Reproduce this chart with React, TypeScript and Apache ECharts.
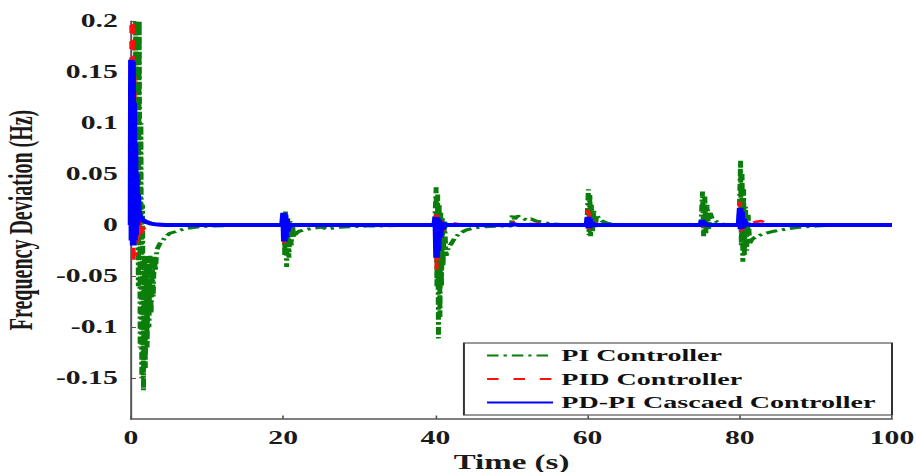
import React, { useEffect, useRef } from 'react';
import * as echarts from 'echarts';

// ---- data (time in s, frequency deviation in Hz) ----
const seriesNames = ['PI Controller', 'PID Controller', 'PD-PI Cascaed Controller'];
const xTickValues = [0, 20, 40, 60, 80, 100];

const piData: [number, number][] = [
  [0, 0], [0.5, 0.005], [0.6, 0.2], [0.72, -0.02], [0.84, 0.2], [0.96, -0.06], [1.08, 0.2], [1.2, -0.12],
  [1.3, 0.1], [1.42, -0.15], [1.52, 0.02], [1.64, -0.162], [1.76, -0.03], [1.88, -0.14], [2.0, -0.04],
  [2.12, -0.12], [2.24, -0.03], [2.36, -0.1], [2.5, -0.03], [2.64, -0.087], [2.78, -0.035], [2.92, -0.07],
  [3.05, -0.03], [3.2, -0.045], [3.4, -0.024], [3.8, -0.018], [4.5, -0.012], [5.1, -0.008], [5.8, -0.0065],
  [7.1, -0.0035], [9.1, -0.0015], [11, -0.0008], [14, -0.0003], [19.9, 0],
  [20.0, 0], [20.1, 0.012], [20.2, -0.03], [20.3, 0.014], [20.45, -0.041], [20.6, 0.008], [20.75, -0.032],
  [20.9, 0.004], [21.05, -0.02], [21.2, 0.002], [21.4, -0.012], [21.7, -0.008], [22.1, -0.006], [22.6, -0.005],
  [23.2, -0.004], [24, -0.003], [25, -0.002], [25.8, -0.004], [26.6, -0.003], [27.5, -0.002], [29, -0.0015],
  [31, -0.001], [35, -0.0005], [39.9, 0],
  [40.0, 0], [40.1, 0.037], [40.2, -0.06], [40.3, 0.03], [40.4, -0.111], [40.5, 0.02], [40.6, -0.09],
  [40.7, 0.012], [40.8, -0.06], [40.9, 0.008], [41.0, -0.04], [41.2, 0.005], [41.4, -0.03], [41.7, -0.022],
  [42.1, -0.018], [42.6, -0.012], [43.2, -0.008], [44, -0.005], [45, -0.003], [46.5, -0.0015], [48, -0.001],
  [49.9, -0.001],
  [50.0, 0], [50.1, 0.01], [50.4, 0.006], [50.8, 0.009], [51.3, 0.007], [52, 0.005], [52.6, 0.006],
  [53.2, 0.004], [54, 0.003], [55, 0.0015], [56.5, 0.0005], [58, 0], [59.9, 0],
  [60.0, 0], [60.1, 0.035], [60.2, -0.01], [60.3, 0.03], [60.4, -0.011], [60.5, 0.02], [60.65, -0.006],
  [60.8, 0.015], [61.0, -0.002], [61.2, 0.01], [61.5, 0.006], [61.9, 0.004], [62.5, 0.002], [63.3, 0.001],
  [64.5, 0], [74.9, 0],
  [75.0, 0], [75.1, 0.033], [75.25, -0.011], [75.4, 0.028], [75.55, -0.008], [75.7, 0.02], [75.9, -0.004],
  [76.1, 0.012], [76.4, 0.006], [76.8, 0.004], [77.4, 0.002], [78.2, 0], [79.9, 0],
  [80.0, 0], [80.1, 0.063], [80.2, -0.02], [80.3, 0.05], [80.4, -0.036], [80.5, 0.035], [80.6, -0.03],
  [80.75, 0.018], [80.9, -0.025], [81.1, 0.01], [81.3, -0.018], [81.6, -0.014], [82, -0.012], [82.6, -0.01],
  [83.4, -0.008], [84.5, -0.006], [86, -0.004], [88, -0.002], [90, -0.001], [92, 0], [100, 0],
];

const pidData: [number, number][] = [
  [0, 0], [0.05, 0.2], [0.15, -0.02], [0.25, 0.2], [0.35, -0.036], [0.45, 0.15], [0.55, -0.03], [0.65, 0.08],
  [0.75, -0.02], [0.85, 0.03], [0.95, -0.015], [1.1, 0.005], [1.3, -0.01], [1.5, -0.005], [1.8, -0.002],
  [2.5, 0], [19.9, 0],
  [20, 0], [20.05, 0.012], [20.15, -0.018], [20.25, 0.01], [20.35, -0.014], [20.5, 0.005], [20.65, -0.006],
  [20.8, 0.002], [21.1, -0.001], [21.5, 0], [39.9, 0],
  [40, 0], [40.05, 0.011], [40.15, -0.044], [40.25, 0.01], [40.35, -0.035], [40.45, 0.006], [40.6, -0.02],
  [40.75, 0.004], [40.95, -0.008], [41.2, 0.004], [41.6, 0.003], [42.2, 0.002], [43, 0.001], [44, 0], [49.9, 0],
  [50, 0], [50.3, 0.003], [51, 0.002], [52, 0.001], [53, 0.001], [54.5, 0.003], [55.5, 0.001], [57, 0], [59.9, 0],
  [60, 0], [60.05, 0.015], [60.15, -0.004], [60.25, 0.012], [60.35, -0.003], [60.5, 0.006], [60.7, 0.001],
  [61, 0.002], [61.5, 0], [74.9, 0],
  [75, 0], [75.05, 0.004], [75.15, -0.002], [75.3, 0.003], [75.6, 0], [79.9, 0],
  [80, 0], [80.05, 0.023], [80.15, -0.006], [80.25, 0.018], [80.35, -0.005], [80.5, 0.01], [80.7, 0.002],
  [81, 0.003], [81.5, 0.002], [82, 0.003], [82.8, 0.004], [83.6, 0.002], [84.5, 0], [100, 0],
];

const pdpiData: [number, number][] = [
  [0, 0], [0.05, 0.162], [0.12, -0.015], [0.2, 0.16], [0.28, -0.02], [0.36, 0.12], [0.44, -0.015], [0.52, 0.08],
  [0.6, -0.01], [0.7, 0.05], [0.78, 0.0], [0.88, 0.03], [1.0, 0.012], [1.2, 0.008], [1.5, 0.005], [2.0, 0.003],
  [2.6, 0.0015], [3.5, 0.0005], [4.5, 0], [19.9, 0],
  [20, 0], [20.05, 0.012], [20.15, -0.016], [20.25, 0.01], [20.35, -0.012], [20.45, 0.006], [20.55, -0.006],
  [20.7, 0.002], [20.9, -0.001], [21.2, 0], [39.9, 0],
  [40, 0], [40.05, 0.008], [40.15, -0.032], [40.25, 0.007], [40.35, -0.025], [40.45, 0.005], [40.6, -0.012],
  [40.75, 0.003], [40.95, -0.004], [41.2, 0.001], [41.6, 0], [49.9, 0],
  [50, 0], [50.2, 0.001], [51, 0], [59.9, 0],
  [60, 0], [60.05, 0.008], [60.15, -0.003], [60.25, 0.006], [60.35, -0.002], [60.5, 0.003], [60.7, 0], [74.9, 0],
  [75, 0], [75.05, 0.005], [75.15, -0.001], [75.3, 0.003], [75.5, 0], [79.9, 0],
  [80, 0], [80.05, 0.017], [80.15, -0.004], [80.25, 0.013], [80.35, -0.003], [80.5, 0.006], [80.7, 0],
  [81, 0.001], [81.5, 0], [100, 0],
];

// The reference figure is stretched horizontally; the chart is drawn narrower and stretched by CSS.
const STRETCH = 1.65;
const W = 555;
const H = 472;
const FONT = 'Liberation Serif';

export default function App() {
  const ref = useRef<HTMLDivElement>(null);
  useEffect(() => {
    if (!ref.current) return;
    const chart = echarts.init(ref.current, undefined, { renderer: 'svg', width: W, height: H });
    chart.setOption({
      animation: false,
      backgroundColor: '#ffffff',
      grid: { left: 79.4, right: 14.4, top: 21, bottom: 53, outerBoundsMode: 'none', containLabel: false },
      xAxis: {
        type: 'value',
        min: xTickValues[0],
        max: xTickValues[xTickValues.length - 1],
        interval: 20,
        name: 'Time (s)',
        nameLocation: 'middle',
        nameGap: 27,
        nameTextStyle: { fontFamily: FONT, fontWeight: 'bold', fontSize: 20, color: '#1a1a1a', lineHeight: 20 },
        axisLine: { show: true, onZero: false, lineStyle: { color: '#555', width: 1.5 } },
        axisTick: { show: true, inside: true, length: 3.5, lineStyle: { color: '#555', width: 1 } },
        axisLabel: { margin: 10, fontFamily: FONT, fontWeight: 'bold', fontSize: 18, color: '#1a1a1a' },
        splitLine: { show: false },
      },
      yAxis: {
        type: 'value',
        min: -0.19,
        max: 0.2,
        splitNumber: 8,
        minInterval: 0.05,
        maxInterval: 0.05,
        name: 'Frequency Deviation (Hz)',
        nameLocation: 'middle',
        nameGap: 52,
        nameTextStyle: { fontFamily: FONT, fontWeight: 'bold', fontSize: 20, color: '#1a1a1a' },
        axisLine: { show: true, onZero: false, lineStyle: { color: '#555', width: 1.2 } },
        axisTick: { show: true, inside: true, length: 3, lineStyle: { color: '#555', width: 1 } },
        axisLabel: {
          margin: 8,
          showMinLabel: false,
          fontFamily: FONT,
          fontWeight: 'bold',
          fontSize: 18,
          color: '#1a1a1a',
        },
        splitLine: { show: false },
      },
      legend: {
        orient: 'vertical',
        right: 14.4,
        top: 343,
        padding: [4, 10, 4, 13],
        itemWidth: 40,
        itemHeight: 14,
        itemGap: 6.5,
        itemStyle: { opacity: 0 },
        backgroundColor: '#ffffff',
        borderColor: '#333',
        borderWidth: 1.2,
        borderRadius: 0,
        data: seriesNames,
        textStyle: { fontFamily: FONT, fontWeight: 'bold', fontSize: 17, color: '#111', lineHeight: 14 },
      },
      series: [
        {
          name: seriesNames[0],
          type: 'line',
          data: piData,
          symbol: 'none',
          showSymbol: false,
          lineStyle: { color: '#0a7d0a', width: 3, type: [7, 3, 2, 3] },
          itemStyle: { color: '#0a7d0a' },
          z: 2,
        },
        {
          name: seriesNames[1],
          type: 'line',
          data: pidData,
          symbol: 'none',
          showSymbol: false,
          lineStyle: { color: '#ff1010', width: 2.5, type: [7, 9] },
          itemStyle: { color: '#ff1010' },
          z: 3,
        },
        {
          name: seriesNames[2],
          type: 'line',
          data: pdpiData,
          symbol: 'none',
          showSymbol: false,
          lineStyle: { color: '#0000ff', width: 4 },
          itemStyle: { color: '#0000ff' },
          z: 4,
        },
      ],
    });
    return () => chart.dispose();
  }, []);

  return (
    <div
      ref={ref}
      style={{
        position: 'fixed',
        left: 0,
        top: 0,
        width: W,
        height: H,
        background: '#fff',
        transform: `scaleX(${STRETCH})`,
        transformOrigin: '0 0',
      }}
    />
  );
}
